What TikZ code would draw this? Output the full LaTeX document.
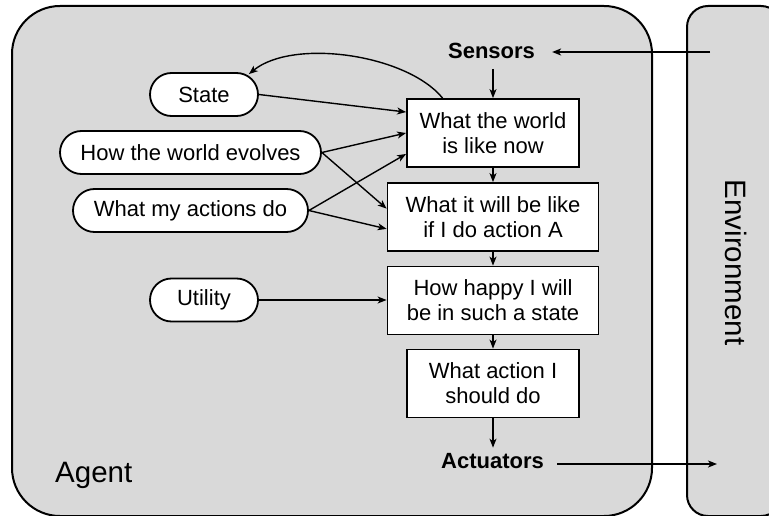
\documentclass[tikz,border=0pt]{standalone}
\usepackage{fontspec}
\setmainfont{Liberation Sans}
\usetikzlibrary{arrows.meta,calc}
\definecolor{panel}{RGB}{217,217,217}
\begin{document}
\begin{tikzpicture}[x=1pt,y=-1pt,
  panelbox/.style={draw=black,line width=2pt,fill=panel},
  procbox/.style={draw=black,line width=1.8pt,fill=white,inner sep=0pt,align=center,font=\fontsize{22}{25}\selectfont,minimum height=68pt},
  pill/.style={draw=black,line width=1.8pt,fill=white,rounded corners=21.5pt,minimum height=43pt,inner sep=0pt,font=\fontsize{22}{25}\selectfont},
  arr/.style={line width=1.4pt,-{Stealth[length=9pt,width=7pt,inset=2.5pt]}},
  iolabel/.style={font=\fontsize{22}{25}\selectfont\bfseries},
  biglabel/.style={font=\fontsize{29.5}{32}\selectfont,inner sep=0pt}
]
\useasboundingbox (0,0) rectangle (769,516);
\draw[panelbox,rounded corners=48pt] (12,6) rectangle (652,516);
\draw[panelbox,rounded corners=21pt] (687,6) rectangle (782,516);

\node[procbox,minimum width=172pt] (now) at (493,133) {What the world\\is like now};
\node[procbox,minimum width=211pt] (future) at (493,217) {What it will be like\\if I do action A};
\node[procbox,minimum width=211pt] (happy) at (493,300.5) {How happy I will\\be in such a state};
\node[procbox,minimum width=172pt] (act) at (493,383.5) {What action I\\should do};

\node[pill,minimum width=108pt] (state) at (204,94.5) {State};
\node[pill,minimum width=261pt] (evolve) at (190.5,152.5) {How the world evolves};
\node[pill,minimum width=235pt] (actions) at (190.5,210.5) {What my actions do};
\node[pill,minimum width=108pt] (utility) at (204,300) {Utility};

\node[iolabel,inner xsep=17pt,inner ysep=10pt,anchor=base] (sensors) at (491.5,58.5) {Sensors};
\node[iolabel,inner xsep=13pt,inner ysep=5pt,anchor=base] (actuators) at (492.5,468) {Actuators};

\node[biglabel,anchor=base west] (agent) at (55,482) {Agent};
\node[biglabel,rotate=-90,anchor=base] (env) at (725,262.5) {Environment};

\coordinate (envS) at (710,52);
\coordinate (envA) at (717,464);

\draw[arr] (envS) -- (sensors.east |- envS);
\draw[arr] (actuators.east |- envA) -- (envA);
\draw[arr] (now.north |- sensors.south) -- (now.north);
\draw[arr] (now.south) -- (future.north);
\draw[arr] (future.south) -- (happy.north);
\draw[arr] (happy.south) -- (act.north);
\draw[arr] (act.south) -- (act.south |- actuators.north);

\draw[arr] (state.east) -- ($(now.north west)!0.2!(now.south west)$);
\draw[arr] (evolve.east) -- ($(now.north west)!0.5!(now.south west)$);
\draw[arr] (evolve.east) -- ($(future.north west)!0.38!(future.south west)$);
\draw[arr] (actions.east) -- ($(now.north west)!0.8!(now.south west)$);
\draw[arr] (actions.east) -- ($(future.north west)!0.67!(future.south west)$);
\draw[arr] (utility.east) -- (utility.east -| happy.west);

\draw[arr] ($(now.north west)!0.21!(now.north east)$) .. controls +(-36,-44) and +(44,-36) .. ($(state.north east)+(-10,2)$);
\end{tikzpicture}
\end{document}
